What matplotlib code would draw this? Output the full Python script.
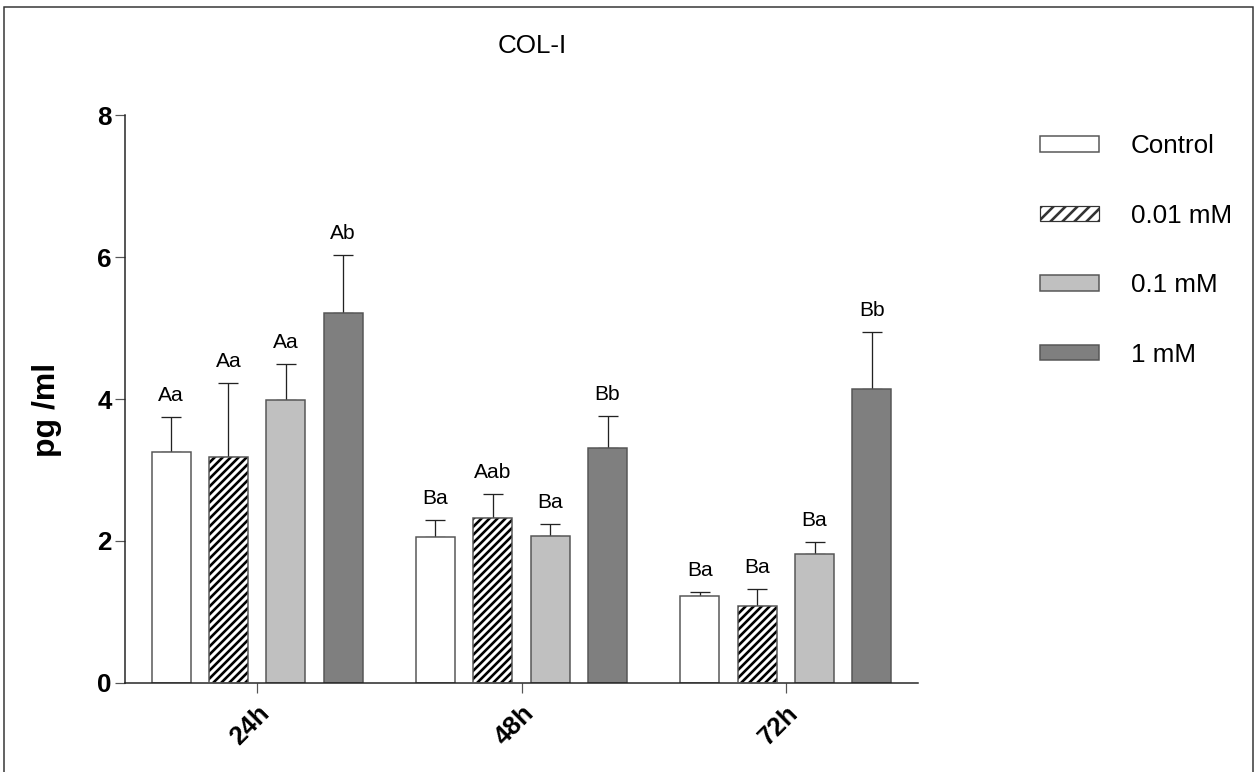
import numpy as np
import matplotlib
matplotlib.use("Agg")
import matplotlib.pyplot as plt
from matplotlib.patches import Rectangle, Patch

plt.rcParams['font.family'] = ['Liberation Sans', 'DejaVu Sans']
plt.rcParams['hatch.linewidth'] = 2.6

# data
times = ['24h', '48h', '72h']
groups = ['Control', '0.01 mM', '0.1 mM', '1 mM']
means = {
    'Control': [3.25, 2.06, 1.22],
    '0.01 mM': [3.19, 2.33, 1.08],
    '0.1 mM': [3.98, 2.07, 1.82],
    '1 mM': [5.21, 3.31, 4.14],
}
errs = {
    'Control': [0.50, 0.24, 0.06],
    '0.01 mM': [1.03, 0.33, 0.24],
    '0.1 mM': [0.52, 0.17, 0.16],
    '1 mM': [0.82, 0.45, 0.80],
}
letters = {
    'Control': ['Aa', 'Ba', 'Ba'],
    '0.01 mM': ['Aa', 'Aab', 'Ba'],
    '0.1 mM': ['Aa', 'Ba', 'Ba'],
    '1 mM': ['Ab', 'Bb', 'Bb'],
}

colors = ['white', 'white', '#c0c0c0', '#7f7f7f']
hatches = [None, '///', None, None]
edge = '#555555'

fig = plt.figure(figsize=(1255 / 72, 772 / 72), dpi=72)
ax = fig.add_axes([0.0996, 0.1153, 0.6319, 0.7357])

x = np.arange(len(times))
step = 0.217
width = 0.147
handles = []
for i, g in enumerate(groups):
    pos = x + (i - 1.5) * step
    if hatches[i]:
        # black hatch underneath, grey outline on top
        ax.bar(pos, means[g], width, color=colors[i], hatch=hatches[i],
               edgecolor='black', linewidth=0, zorder=2)
        ax.bar(pos, means[g], width, fill=False, edgecolor=edge,
               linewidth=1.5, zorder=3)
        h = Patch(facecolor='white', edgecolor='#333333', hatch='//',
                  linewidth=1.2, label=g)
        if hasattr(h, 'set_hatch_linewidth'):
            h.set_hatch_linewidth(1.0)
        handles.append(h)
    else:
        ax.bar(pos, means[g], width, color=colors[i], edgecolor=edge,
               linewidth=1.5, zorder=2)
        handles.append(Patch(facecolor=colors[i], edgecolor=edge, linewidth=1.5, label=g))
    ax.errorbar(pos, means[g], yerr=[np.zeros(3), errs[g]], fmt='none',
                ecolor='#222222', elinewidth=1.3, capsize=10, capthick=1.3, zorder=1)
    for p, m, e, t in zip(pos, means[g], errs[g], letters[g]):
        ax.annotate(t, (p, m + e), xytext=(0, 12), textcoords='offset points',
                    ha='center', va='bottom', fontsize=21)

ax.set_xlim(-0.5, 2.5)
ax.set_ylim(0, 8)
ax.set_yticks([0, 2, 4, 6, 8])
ax.set_xticks(x)
ax.set_xticklabels(times, rotation=45, ha='right', va='top',
                   rotation_mode='anchor', fontsize=26, fontweight='bold')
for lab in ax.get_yticklabels():
    lab.set_fontsize(26)
    lab.set_fontweight('bold')
ax.tick_params(axis='both', direction='out', length=10, width=1.2, color='#555555')
ax.tick_params(axis='x', pad=8)
ax.tick_params(axis='y', pad=3)
for s in ['top', 'right']:
    ax.spines[s].set_visible(False)
for s in ['left', 'bottom']:
    ax.spines[s].set_linewidth(1.5)
    ax.spines[s].set_color('#222222')

ax.set_ylabel('pg /ml', fontsize=32, fontweight='bold')
ax.yaxis.set_label_coords(-0.08, 0.48)
fig.text(0.424, 0.94, 'COL-I', ha='center', va='center', fontsize=26)

fig.legend(handles=handles, loc='upper left', bbox_to_anchor=(0.818, 0.843), frameon=False,
           fontsize=26, handlelength=2.3, handleheight=0.55,
           handletextpad=1.2, labelspacing=1.75, borderpad=0)

fig.patches.append(Rectangle((0.0032, -0.01), 0.9952, 1.0009, transform=fig.transFigure,
                             fill=False, edgecolor='#333333', linewidth=1.5))

fig.savefig('out.png', dpi=72)
